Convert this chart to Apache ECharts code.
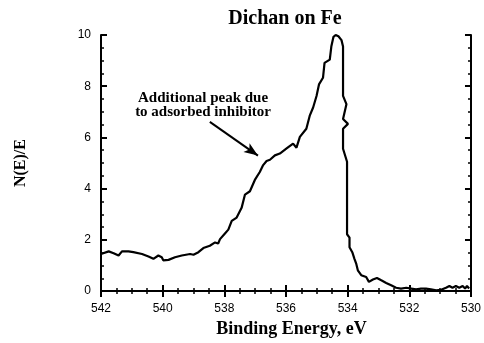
<!DOCTYPE html>
<html>
<head>
<meta charset="utf-8">
<script src="https://cdn.jsdelivr.net/npm/echarts@6/dist/echarts.min.js"></script>
<style>html,body{margin:0;padding:0;background:#fff}#c{width:484px;height:343px}</style>
</head>
<body>
<div id="c"></div>
<script>
const energy = [542.0,541.97,541.75,541.59,541.43,541.32,541.11,540.95,540.67,540.46,540.3,540.14,540.03,539.98,539.81,539.6,539.38,539.11,539.0,538.84,538.68,538.47,538.3,538.2,538.14,537.98,537.87,537.76,537.6,537.44,537.33,537.17,537.01,536.85,536.74,536.63,536.52,536.36,536.2,535.98,535.77,535.66,535.55,535.34,535.23,535.12,535.01,534.93,534.8,534.75,534.58,534.53,534.46,534.39,534.3,534.2,534.15,534.15,534.04,534.15,533.99,534.15,534.15,534.02,534.02,533.94,533.94,533.85,533.78,533.72,533.67,533.56,533.4,533.31,533.18,533.05,532.91,532.75,532.59,532.43,532.27,532.1,531.94,531.78,531.62,531.46,531.3,531.13,530.97,530.81,530.7,530.6,530.49,530.38,530.27,530.19,530.13,530.06];
const intensity = [1.45,1.45,1.55,1.48,1.39,1.55,1.55,1.52,1.45,1.35,1.26,1.39,1.32,1.2,1.22,1.32,1.39,1.45,1.42,1.52,1.68,1.77,1.9,1.86,2.03,2.25,2.4,2.74,2.87,3.25,3.77,3.9,4.34,4.65,4.92,5.08,5.13,5.3,5.37,5.57,5.76,5.6,6.02,6.34,6.85,7.17,7.62,8.07,8.33,8.91,9.04,9.55,9.93,10.0,9.95,9.8,9.55,7.62,7.3,6.72,6.53,6.34,5.56,5.05,2.22,2.09,1.71,1.52,1.26,1.06,0.81,0.62,0.55,0.36,0.45,0.51,0.42,0.32,0.23,0.13,0.1,0.13,0.1,0.07,0.1,0.1,0.07,0.03,0.05,0.13,0.2,0.13,0.2,0.13,0.2,0.1,0.2,0.1];
const xTicks = {min: 530, max: 542, step: 2};
const yTicks = {min: 0, max: 10, step: 2};
const titleText = 'Dichan on Fe';
const xName = 'Binding Energy, eV';
const yName = 'N(E)/E';
const noteText = 'Additional peak due\nto adsorbed inhibitor';
const notePos = [538.69, 7.26];
const arrowFrom = [538.47, 6.61];
const arrowTo = [536.91, 5.29];

const serif = '"Liberation Serif","Times New Roman",serif';
const sans = '"Liberation Sans",Arial,sans-serif';
const line = {show: true, lineStyle: {color: '#000', width: 2}};
const tick = {show: true, inside: true, length: 6, lineStyle: {color: '#000', width: 2}};
const minor = {show: true, splitNumber: 4, length: 3, lineStyle: {color: '#000', width: 1.5}};
function xAx(pos, labels) {
  return {type: 'value', position: pos, inverse: true, min: xTicks.min, max: xTicks.max, interval: xTicks.step,
    axisLine: line, axisTick: tick, minorTick: minor, splitLine: {show: false},
    axisLabel: {show: labels, color: '#000', fontFamily: sans, fontSize: 12, margin: 12},
    name: labels ? xName : '', nameLocation: 'middle', nameGap: 27,
    nameTextStyle: {fontFamily: serif, fontWeight: 'bold', fontSize: 18, color: '#000', padding: [0, 0, 0, 11]}};
}
function yAx(pos, labels) {
  return {type: 'value', position: pos, min: yTicks.min, max: yTicks.max, interval: yTicks.step,
    axisLine: line, axisTick: tick, minorTick: minor, splitLine: {show: false},
    axisLabel: {show: labels, color: '#000', fontFamily: sans, fontSize: 12, margin: 10},
    name: labels ? yName : '', nameLocation: 'middle', nameGap: 72, nameRotate: 90,
    nameTextStyle: {fontFamily: serif, fontWeight: 'bold', fontSize: 16, color: '#000'}};
}
const chart = echarts.init(document.getElementById('c'), null, {renderer: 'canvas'});
chart.setOption({
  animation: false,
  backgroundColor: '#fff',
  title: {text: titleText, left: 280, top: 4, textAlign: 'center',
    textStyle: {fontFamily: serif, fontWeight: 'bold', fontSize: 20, color: '#000'}},
  grid: {left: 101, right: 12, top: 35, bottom: 49},
  xAxis: [xAx('bottom', true), xAx('top', false)],
  yAxis: [yAx('left', true), yAx('right', false)],
  series: [{
    type: 'line', xAxisIndex: 0, yAxisIndex: 0,
    data: energy.map((e, i) => [e, intensity[i]]),
    showSymbol: false, symbol: 'none',
    lineStyle: {color: '#000', width: 2.2}, clip: true,
    markPoint: {silent: true, symbol: 'rect', symbolSize: 1, itemStyle: {color: 'rgba(0,0,0,0)'},
      label: {show: true, position: 'inside', formatter: noteText, fontFamily: serif, fontWeight: 'bold',
        fontSize: 15, lineHeight: 14, color: '#000', align: 'center'},
      data: [{coord: notePos}]},
    markLine: {silent: true, symbol: ['none', 'arrow'], symbolSize: [8, 14],
      lineStyle: {color: '#000', width: 2, type: 'solid'}, label: {show: false},
      data: [[{coord: arrowFrom}, {coord: arrowTo}]]}
  }]
});
</script>
</body>
</html>
